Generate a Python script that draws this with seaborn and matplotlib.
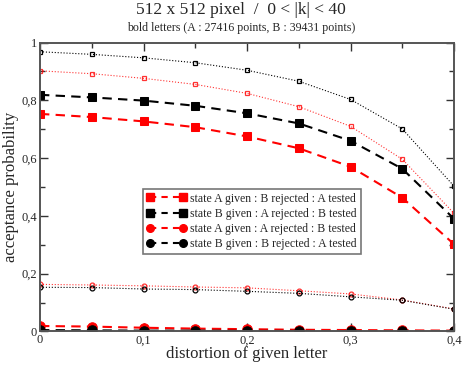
import numpy as np
import pandas as pd
import seaborn as sns
import matplotlib.pyplot as plt
from matplotlib.ticker import MultipleLocator, FuncFormatter

# distortion values
distortion = [0.0, 0.05, 0.1, 0.15, 0.2, 0.25, 0.3, 0.35, 0.4]

# filled markers (legend entries)
a_given_b_rej_a_test = [0.753, 0.742, 0.727, 0.707, 0.675, 0.634, 0.570, 0.463, 0.302]
b_given_a_rej_b_test = [0.819, 0.810, 0.799, 0.781, 0.755, 0.720, 0.660, 0.563, 0.390]
a_given_a_rej_b_test = [0.019, 0.017, 0.013, 0.010, 0.008, 0.006, 0.005, 0.004, 0.003]
b_given_b_rej_a_test = [0.005, 0.004, 0.003, 0.003, 0.002, 0.002, 0.001, 0.001, 0.001]

# open markers (dotted, no legend)
open_red_sq = [0.902, 0.892, 0.876, 0.855, 0.824, 0.778, 0.710, 0.596, 0.409]
open_black_sq = [0.968, 0.959, 0.947, 0.930, 0.904, 0.866, 0.803, 0.701, 0.503]
open_red_circ = [0.163, 0.161, 0.158, 0.154, 0.151, 0.141, 0.130, 0.109, 0.078]
open_black_circ = [0.153, 0.152, 0.147, 0.145, 0.139, 0.132, 0.120, 0.108, 0.077]

labels = ["state A given : B rejected : A tested",
          "state B given : A rejected : B tested",
          "state A given : A rejected : B tested",
          "state B given : B rejected : A tested"]

sns.set_style("ticks")
plt.rcParams["font.family"] = ["Liberation Serif", "DejaVu Serif"]

fig = plt.figure(figsize=(4.63, 3.68), dpi=100)
ax = fig.add_axes([0.0864, 0.0992, 0.8942, 0.7853])

# dotted series with small open markers
for vals, col, mk in [(open_black_sq, "black", "s"), (open_red_sq, "red", "s"),
                      (open_red_circ, "red", "o"), (open_black_circ, "black", "o")]:
    sns.lineplot(x=distortion, y=vals, ax=ax, color=col, linestyle=":", linewidth=0.8,
                 marker=mk, markersize=3.5, markerfacecolor="none",
                 markeredgecolor=col, markeredgewidth=0.9, alpha=0.8 if col == "red" else 1)

# dashed series with filled markers
handles = []
for vals, col, mk, lab in [(a_given_b_rej_a_test, "red", "s", labels[0]),
                           (b_given_a_rej_b_test, "black", "s", labels[1]),
                           (a_given_a_rej_b_test, "red", "o", labels[2]),
                           (b_given_b_rej_a_test, "black", "o", labels[3])]:
    sns.lineplot(x=distortion, y=vals, ax=ax, color=col, linestyle=(0, (4.5, 3)),
                 linewidth=1.5, marker=mk, markersize=6.3 if mk == "s" else 6.8,
                 markerfacecolor=col, markeredgecolor=col)
    handles.append(plt.Line2D([], [], color=col, linestyle=(0, (3, 2.5)), linewidth=1.5,
                              marker=mk, markersize=5.5, markerfacecolor=col,
                              markeredgecolor=col, label=lab))

ax.set_xlim(0, 0.4)
ax.set_ylim(0, 1)
ax.xaxis.set_major_locator(MultipleLocator(0.1))
ax.xaxis.set_minor_locator(MultipleLocator(0.05))
ax.yaxis.set_major_locator(MultipleLocator(0.2))
ax.yaxis.set_minor_locator(MultipleLocator(0.1))
fmt = FuncFormatter(lambda v, p: "0" if abs(v) < 1e-9 else ("1" if abs(v - 1) < 1e-9 else f"{v:.1f}".replace(".", ",")))
ax.xaxis.set_major_formatter(fmt)
ax.yaxis.set_major_formatter(fmt)
ax.tick_params(which="both", direction="in", top=True, right=True, labelsize=9,
               color="#333333", pad=2)
ax.tick_params(which="major", length=6, width=1)
ax.tick_params(which="minor", length=3.5, width=1)
for s in ax.spines.values():
    s.set_color("#555555")
    s.set_linewidth(1.4)

ax.set_xlabel("distortion of given letter", fontsize=12, labelpad=0)
ax.set_ylabel("acceptance probability", fontsize=12, labelpad=2)

leg = ax.legend(handles=handles, loc="upper left", bbox_to_anchor=(0.248, 0.493),
                numpoints=2, handlelength=3.4, fontsize=8.5, frameon=True, fancybox=False,
                borderpad=0.3, labelspacing=0.28, handletextpad=0.35, borderaxespad=0)
leg.get_frame().set_edgecolor("#555555")
leg.get_frame().set_linewidth(1.2)

fig.text(0.52, 0.972, "512 x 512 pixel  /  0 < |k| < 40", ha="center", va="center", fontsize=12.5)
fig.text(0.52, 0.924, "bold letters (A : 27416 points, B : 39431 points)", ha="center",
         va="center", fontsize=8.6)

fig.savefig("out.png", dpi=100)
